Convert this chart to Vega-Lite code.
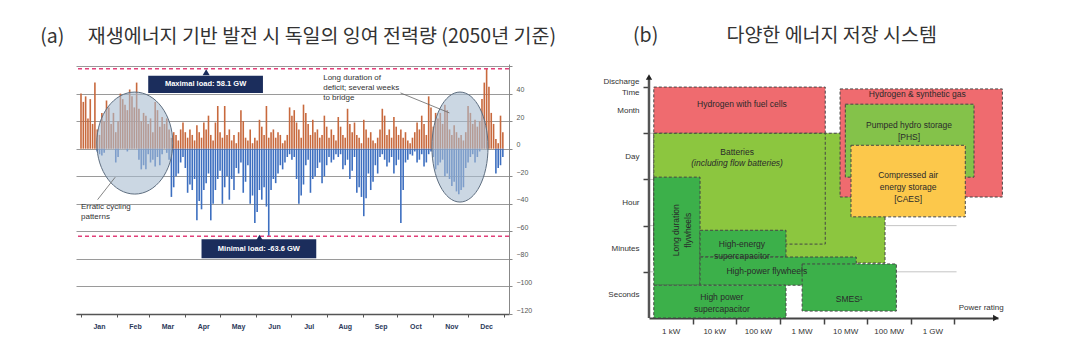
{
  "$schema": "https://vega.github.io/schema/vega-lite/v6.json",
  "background": "white",
  "padding": {"left": 40, "top": 26, "right": 5, "bottom": 5},
  "spacing": 46,
  "config": {
    "view": {"stroke": null, "fill": "white"},
    "font": "Liberation Sans",
    "title": {"font": "Noto Sans CJK KR", "fontSize": 19.5, "fontWeight": "normal", "color": "#333333", "anchor": "start"}
  },
  "datasets": {
    "surplus": [
      {"d":0,"p":40,"n":0},{"d":2,"p":34,"n":0},{"d":4,"p":38,"n":0},{"d":6,"p":22,"n":0},{"d":8,"p":36,"n":0},
      {"d":10,"p":18,"n":0},{"d":12,"p":48,"n":0},{"d":14,"p":14,"n":-2},{"d":16,"p":10,"n":-4},{"d":18,"p":26,"n":-5},
      {"d":20,"p":20,"n":-3},{"d":22,"p":35,"n":0},{"d":24,"p":30,"n":0},{"d":26,"p":18,"n":0},{"d":28,"p":26,"n":0},
      {"d":30,"p":12,"n":-10},{"d":32,"p":20,"n":-6},{"d":34,"p":40,"n":0},{"d":36,"p":36,"n":0},{"d":38,"p":32,"n":0},
      {"d":40,"p":28,"n":-2},{"d":42,"p":43,"n":0},{"d":44,"p":38,"n":0},{"d":46,"p":30,"n":0},{"d":48,"p":48,"n":0},
      {"d":50,"p":29,"n":-8},{"d":52,"p":20,"n":-15},{"d":54,"p":26,"n":-12},{"d":56,"p":24,"n":-15},{"d":58,"p":18,"n":-4},
      {"d":60,"p":22,"n":-10},{"d":62,"p":12,"n":-8},{"d":64,"p":34,"n":-13},{"d":66,"p":28,"n":-6},{"d":68,"p":16,"n":-12},
      {"d":70,"p":23,"n":-4},{"d":72,"p":18,"n":0},{"d":74,"p":22,"n":-3},{"d":76,"p":14,"n":-8},{"d":78,"p":8,"n":-35},
      {"d":80,"p":12,"n":-28},{"d":82,"p":10,"n":-20},{"d":84,"p":6,"n":-18},{"d":86,"p":14,"n":-10},{"d":88,"p":19,"n":-6},
      {"d":90,"p":12,"n":-14},{"d":92,"p":8,"n":-32},{"d":94,"p":14,"n":-26},{"d":96,"p":10,"n":-30},{"d":98,"p":6,"n":-22},
      {"d":100,"p":17,"n":-52},{"d":102,"p":12,"n":-38},{"d":104,"p":8,"n":-44},{"d":106,"p":19,"n":-30},{"d":108,"p":14,"n":-25},
      {"d":110,"p":24,"n":-18},{"d":112,"p":10,"n":-52},{"d":114,"p":6,"n":-40},{"d":116,"p":19,"n":-30},{"d":118,"p":31,"n":-22},
      {"d":120,"p":12,"n":-16},{"d":122,"p":8,"n":-40},{"d":124,"p":31,"n":-28},{"d":126,"p":10,"n":-20},{"d":128,"p":14,"n":-37},
      {"d":130,"p":6,"n":-22},{"d":132,"p":10,"n":-30},{"d":134,"p":4,"n":-14},{"d":136,"p":12,"n":-18},{"d":138,"p":28,"n":-10},
      {"d":140,"p":20,"n":-32},{"d":142,"p":8,"n":-24},{"d":144,"p":6,"n":-12},{"d":146,"p":14,"n":-40},{"d":148,"p":4,"n":-34},
      {"d":150,"p":8,"n":-54},{"d":152,"p":6,"n":-46},{"d":154,"p":21,"n":-30},{"d":156,"p":16,"n":-37},{"d":158,"p":10,"n":-28},
      {"d":160,"p":31,"n":-42},{"d":162,"p":8,"n":-63.6},{"d":164,"p":12,"n":-30},{"d":166,"p":14,"n":-22},{"d":168,"p":8,"n":-25},
      {"d":170,"p":12,"n":-18},{"d":172,"p":10,"n":-12},{"d":174,"p":4,"n":-15},{"d":176,"p":6,"n":-10},{"d":178,"p":10,"n":-6},
      {"d":180,"p":30,"n":-4},{"d":182,"p":24,"n":-8},{"d":184,"p":28,"n":-6},{"d":186,"p":19,"n":-22},{"d":188,"p":14,"n":-40},
      {"d":190,"p":8,"n":-34},{"d":192,"p":32,"n":-26},{"d":194,"p":26,"n":-12},{"d":196,"p":18,"n":-8},{"d":198,"p":10,"n":-32},
      {"d":200,"p":21,"n":-22},{"d":202,"p":12,"n":-20},{"d":204,"p":14,"n":-14},{"d":206,"p":8,"n":-10},{"d":208,"p":10,"n":-25},
      {"d":210,"p":24,"n":-20},{"d":212,"p":16,"n":-12},{"d":214,"p":8,"n":-6},{"d":216,"p":14,"n":-10},{"d":218,"p":10,"n":-8},
      {"d":220,"p":6,"n":-4},{"d":222,"p":23,"n":-6},{"d":224,"p":16,"n":-4},{"d":226,"p":10,"n":-15},{"d":228,"p":8,"n":-12},
      {"d":230,"p":29,"n":-8},{"d":232,"p":18,"n":-22},{"d":234,"p":12,"n":-16},{"d":236,"p":19,"n":-6},{"d":238,"p":10,"n":-32},
      {"d":240,"p":8,"n":-28},{"d":242,"p":4,"n":-35},{"d":244,"p":21,"n":-49},{"d":246,"p":14,"n":-36},{"d":248,"p":8,"n":-18},
      {"d":250,"p":12,"n":-30},{"d":252,"p":6,"n":-24},{"d":254,"p":4,"n":-12},{"d":256,"p":8,"n":-18},{"d":258,"p":14,"n":-6},
      {"d":260,"p":29,"n":-4},{"d":262,"p":24,"n":-8},{"d":264,"p":10,"n":-13},{"d":266,"p":14,"n":-10},{"d":268,"p":8,"n":-6},
      {"d":270,"p":23,"n":-18},{"d":272,"p":16,"n":-12},{"d":274,"p":10,"n":-8},{"d":276,"p":14,"n":-54},{"d":278,"p":8,"n":-30},
      {"d":280,"p":12,"n":-10},{"d":282,"p":6,"n":-8},{"d":284,"p":4,"n":-4},{"d":286,"p":8,"n":-5},{"d":288,"p":12,"n":-2},
      {"d":290,"p":19,"n":-10},{"d":292,"p":14,"n":-8},{"d":294,"p":24,"n":-4},{"d":296,"p":18,"n":-13},{"d":298,"p":10,"n":-10},
      {"d":300,"p":38,"n":-4},{"d":302,"p":30,"n":-2},{"d":304,"p":16,"n":-6},{"d":306,"p":26,"n":-15},{"d":308,"p":22,"n":-12},
      {"d":310,"p":26,"n":-10},{"d":312,"p":18,"n":-8},{"d":314,"p":32,"n":-20},{"d":316,"p":28,"n":-18},{"d":318,"p":14,"n":-22},
      {"d":320,"p":10,"n":-27},{"d":322,"p":17,"n":-24},{"d":324,"p":12,"n":-31},{"d":326,"p":8,"n":-33},{"d":328,"p":10,"n":-30},
      {"d":330,"p":6,"n":-28},{"d":332,"p":12,"n":-14},{"d":334,"p":31,"n":-10},{"d":336,"p":26,"n":-6},{"d":338,"p":18,"n":-4},
      {"d":340,"p":21,"n":-10},{"d":342,"p":16,"n":-6},{"d":344,"p":20,"n":-2},{"d":346,"p":36,"n":0},{"d":348,"p":48,"n":0},
      {"d":350,"p":58.1,"n":0},{"d":352,"p":45,"n":0},{"d":354,"p":26,"n":0},{"d":356,"p":18,"n":0},{"d":358,"p":7,"n":-18},
      {"d":360,"p":4,"n":-14},{"d":362,"p":24,"n":-12},{"d":364,"p":12,"n":-6}
    ],
    "loadLimits": [{"kind": "max", "v": 58.1}, {"kind": "min", "v": -63.6}],
    "loadBoxes": [
      {"x1": 58, "x2": 157, "y1": 52.9, "y2": 40.5, "tx": 107.5, "ty": 46.7, "px": 108, "py": 55.5, "t": "Maximal load: 58.1 GW"},
      {"x1": 104, "x2": 203, "y1": -65.7, "y2": -79.5, "tx": 153.5, "ty": -72.6, "px": 154, "py": -64.6, "t": "Minimal load: -63.6 GW"}
    ],
    "leaders": [
      {"x1": 14.3, "y1": -37, "x2": 29.5, "y2": -20.7},
      {"x1": 275.7, "y1": 40.5, "x2": 317.9, "y2": 26}
    ],
    "notes": [
      {"x": 0, "y": -42.5, "t": "Erratic cycling\npatterns"},
      {"x": 209, "y": 51.4, "t": "Long duration of\ndeficit; several weeks\nto bridge"}
    ],
    "erratic": [{"x": 46.4, "y": 4.1}],
    "longDeficit": [{"x": 327, "y": 1.2}],
    "storage": [
      {"name": "Batteries (power range)", "kind": "battery", "x1": 0.11, "x2": 5.41, "y1": 1.19, "y2": 4.0},
      {"name": "Hydrogen & synthetic gas", "kind": "hydrogen", "x1": 4.38, "x2": 8.1, "y1": 2.62, "y2": 4.96},
      {"name": "Hydrogen with fuel cells", "kind": "hydrogen", "x1": 0.11, "x2": 4.04, "y1": 4.0, "y2": 5.0},
      {"name": "Batteries", "kind": "battery", "x1": 0.11, "x2": 4.04, "y1": 1.6, "y2": 4.0},
      {"name": "Pumped hydro storage", "kind": "phs", "x1": 4.5, "x2": 7.45, "y1": 3.05, "y2": 4.63},
      {"name": "Compressed air energy storage", "kind": "caes", "x1": 4.63, "x2": 7.25, "y1": 2.19, "y2": 3.74},
      {"name": "Long duration flywheels", "kind": "mech", "x1": 0.11, "x2": 1.17, "y1": 0.71, "y2": 3.05},
      {"name": "High-energy supercapacitor", "kind": "mech", "x1": 1.17, "x2": 3.14, "y1": 1.32, "y2": 1.9},
      {"name": "High-power flywheels", "kind": "mech", "x1": 1.17, "x2": 4.75, "y1": 0.71, "y2": 1.32},
      {"name": "High power supercapacitor", "kind": "mech", "x1": 0.11, "x2": 3.14, "y1": 0.0, "y2": 0.71},
      {"name": "SMES", "kind": "mech", "x1": 3.51, "x2": 5.67, "y1": 0.15, "y2": 1.17}
    ],
    "storageLabels": [
      {"x": 2.13, "y": 4.63, "t": "Hydrogen with fuel cells"},
      {"x": 6.15, "y": 4.85, "t": "Hydrogen & synthetic gas"},
      {"x": 5.96, "y": 4.17, "t": "Pumped hydro storage\n[PHS]"},
      {"x": 5.94, "y": 3.1, "t": "Compressed air\nenergy storage\n[CAES]"},
      {"x": 2.02, "y": 3.59, "t": "Batteries"},
      {"x": 2.13, "y": 1.6, "t": "High-energy\nsupercapacitor"},
      {"x": 2.7, "y": 1.02, "t": "High-power flywheels"},
      {"x": 1.67, "y": 0.45, "t": "High power\nsupercapacitor"},
      {"x": 4.59, "y": 0.41, "t": "SMES¹"}
    ],
    "storageItalic": [{"x": 2.02, "y": 3.35, "t": "(including flow batteries)"}],
    "storageRotated": [{"x": 0.62, "y": 1.9, "t": "Long duration\nflywheels"}],
    "timeGrid": [{"g": 1}, {"g": 2}, {"g": 3}, {"g": 4}],
    "timeAxis": [{"x": 0, "y": 0, "y2": 5.22}],
    "arrowsUp": [{"x": 0, "y": 5.22}],
    "arrowsRight": [{"x": 7.95, "y": 0}],
    "powerLabel": [{"x": 7.1, "y": 0.22, "t": "Power rating"}]
  },
  "hconcat": [
    {
      "width": 433,
      "height": 250,
      "title": {"text": "(a)\u2003\u2009재생에너지 기반 발전 시 독일의 잉여 전력량 (2050년 기준)", "dx": -35, "offset": 10.5},
      "layer": [
        {
          "data": {"name": "surplus"},
          "mark": {"type": "bar", "width": 1.6, "color": "#c8693d"},
          "encoding": {
            "x": {"field": "d", "type": "quantitative", "title": null,
              "scale": {"domain": [0, 365], "nice": false, "zero": false},
              "axis": {
                "values": [0, 31, 59, 90, 120, 151, 181, 212, 243, 273, 304, 334, 365],
                "tickCount": 30,
                "labelExpr": "['Jan','Feb','Mar','Apr','May','Jun','Jul','Aug','Sep','Oct','Nov','Dec',''][indexof([0,31,59,90,120,151,181,212,243,273,304,334,365], datum.value)]",
                "labelOffset": 18, "labelOverlap": false, "labelBound": false, "labelFlush": false,
                "grid": false, "domainColor": "#555555", "domainWidth": 1.5, "tickColor": "#555555", "tickSize": 3,
                "labelFontSize": 7, "labelFontWeight": "bold", "labelColor": "#2c3a5a", "labelPadding": 5
              }
            },
            "y": {"field": "p", "type": "quantitative", "title": null,
              "scale": {"domain": [-120, 61.5], "nice": false},
              "axis": {
                "orient": "right",
                "values": [-120, -100, -80, -60, -40, -20, 0, 20, 40, 60],
                "tickCount": 30,
                "labelExpr": "datum.value == 60 ? '' : datum.label",
                "labelOverlap": false,
                "grid": true, "gridColor": "#9a9a9a", "gridWidth": 1,
                "domainColor": "#888888", "tickColor": "#888888", "tickSize": 3,
                "labelFontSize": 7, "labelColor": "#555555", "labelPadding": 4,
                "labelBaseline": "alphabetic", "labelOffset": -2
              }
            }
          }
        },
        {
          "data": {"name": "surplus"},
          "mark": {"type": "bar", "width": 1.6, "color": "#3d6fc0"},
          "encoding": {
            "x": {"field": "d", "type": "quantitative"},
            "y": {"field": "n", "type": "quantitative"}
          }
        },
        {
          "data": {"name": "loadLimits"},
          "mark": {"type": "rule", "color": "#e2407a", "strokeWidth": 1.5, "strokeDash": [4, 3]},
          "encoding": {"y": {"field": "v", "type": "quantitative"}}
        },
        {
          "data": {"name": "erratic"},
          "mark": {"type": "point", "filled": true, "shape": "M -0.745 0 C -0.745 -0.5523 -0.4115 -1 0 -1 C 0.4115 -1 0.745 -0.5523 0.745 0 C 0.745 0.5523 0.4115 1 0 1 C -0.4115 1 -0.745 0.5523 -0.745 0 Z", "size": 10404, "fill": "#a9bdd1", "fillOpacity": 0.6, "stroke": "#5e6e80", "strokeWidth": 1, "opacity": 1},
          "encoding": {"x": {"field": "x", "type": "quantitative"}, "y": {"field": "y", "type": "quantitative"}}
        },
        {
          "data": {"name": "longDeficit"},
          "mark": {"type": "point", "filled": true, "shape": "M -0.51 0 C -0.51 -0.5523 -0.2817 -1 0 -1 C 0.2817 -1 0.51 -0.5523 0.51 0 C 0.51 0.5523 0.2817 1 0 1 C -0.2817 1 -0.51 0.5523 -0.51 0 Z", "size": 12100, "fill": "#a9bdd1", "fillOpacity": 0.6, "stroke": "#5e6e80", "strokeWidth": 1, "opacity": 1},
          "encoding": {"x": {"field": "x", "type": "quantitative"}, "y": {"field": "y", "type": "quantitative"}}
        },
        {
          "data": {"name": "leaders"},
          "mark": {"type": "rule", "color": "#666666", "strokeWidth": 0.8},
          "encoding": {
            "x": {"field": "x1", "type": "quantitative"}, "x2": {"field": "x2"},
            "y": {"field": "y1", "type": "quantitative"}, "y2": {"field": "y2"}
          }
        },
        {
          "data": {"name": "loadBoxes"},
          "mark": {"type": "rect", "color": "#1b2d5c"},
          "encoding": {
            "x": {"field": "x1", "type": "quantitative"}, "x2": {"field": "x2"},
            "y": {"field": "y1", "type": "quantitative"}, "y2": {"field": "y2"}
          }
        },
        {
          "data": {"name": "loadBoxes"},
          "mark": {"type": "point", "shape": "triangle-up", "filled": true, "size": 50, "color": "#1b2d5c", "opacity": 1},
          "encoding": {"x": {"field": "px", "type": "quantitative"}, "y": {"field": "py", "type": "quantitative"}}
        },
        {
          "data": {"name": "loadBoxes"},
          "mark": {"type": "text", "color": "white", "fontSize": 7.5, "fontWeight": "bold", "baseline": "middle"},
          "encoding": {
            "x": {"field": "tx", "type": "quantitative"}, "y": {"field": "ty", "type": "quantitative"},
            "text": {"field": "t"}
          }
        },
        {
          "data": {"name": "notes"},
          "mark": {"type": "text", "color": "#333333", "fontSize": 8, "align": "left", "baseline": "middle", "lineBreak": "\n", "lineHeight": 10},
          "encoding": {
            "x": {"field": "x", "type": "quantitative"}, "y": {"field": "y", "type": "quantitative"},
            "text": {"field": "t"}
          }
        }
      ]
    },
    {
      "width": 349,
      "height": 254,
      "title": {"text": "(b)\u2003\u2003\u2003\u2002다양한 에너지 저장 시스템", "dx": 30, "offset": 17.5},
      "layer": [
        {
          "data": {"name": "timeGrid"},
          "mark": {"type": "rule", "color": "#c4c4c4", "strokeWidth": 1},
          "encoding": {
            "x": {"datum": 0, "type": "quantitative",
              "scale": {"domain": [0, 8], "nice": false, "zero": false},
              "axis": {
                "title": null,
                "values": [1, 2, 3, 4, 5, 6, 7],
                "tickCount": 30,
                "labelExpr": "['', '1 kW', '10 kW', '100 kW', '1 MW', '10 MW', '100 MW', '1 GW'][datum.value]",
                "labelOffset": -22, "labelOverlap": false, "labelBound": false, "labelFlush": false,
                "grid": false, "domainColor": "#444444", "domainWidth": 2, "tickColor": "#444444", "tickWidth": 1.5, "tickSize": 6,
                "labelFontSize": 8, "labelColor": "#333333", "labelPadding": 3
              }
            },
            "x2": {"datum": 7.05},
            "y": {"field": "g", "type": "quantitative",
              "scale": {"domain": [0, 5.5], "nice": false, "zero": false},
              "axis": {
                "title": ["Discharge", "Time"], "titleAngle": 0, "titleAlign": "right", "titleBaseline": "top",
                "titleX": -10, "titleY": 13, "titleFontSize": 8, "titleFontWeight": "normal", "titleColor": "#333333", "titleLineHeight": 11,
                "values": [1, 2, 3, 4, 5],
                "tickCount": 30,
                "labelExpr": "['', 'Seconds', 'Minutes', 'Hour', 'Day', 'Month'][datum.value]",
                "labelOffset": 23, "labelOverlap": false, "labelBound": false, "labelFlush": false,
                "grid": false, "domain": false, "tickColor": "#444444", "tickWidth": 1.5, "tickSize": 6,
                "labelFontSize": 8, "labelColor": "#333333", "labelPadding": 4
              }
            }
          }
        },
        {
          "data": {"name": "storage"},
          "mark": {"type": "rect", "stroke": "#454545", "strokeWidth": 1, "strokeDash": [3, 2], "opacity": 1},
          "encoding": {
            "x": {"field": "x1", "type": "quantitative"}, "x2": {"field": "x2"},
            "y": {"field": "y1", "type": "quantitative"}, "y2": {"field": "y2"},
            "fill": {"field": "kind", "type": "nominal", "legend": null,
              "scale": {"domain": ["hydrogen", "battery", "phs", "caes", "mech"], "range": ["#ef6b6f", "#8cc63f", "#84c24a", "#fcc84b", "#3cb04a"]}}
          }
        },
        {
          "data": {"name": "timeAxis"},
          "mark": {"type": "rule", "color": "#555555", "strokeWidth": 2.5},
          "encoding": {
            "x": {"field": "x", "type": "quantitative"},
            "y": {"field": "y", "type": "quantitative"}, "y2": {"field": "y2"}
          }
        },
        {
          "data": {"name": "storageLabels"},
          "mark": {"type": "text", "color": "#2a2a2a", "fontSize": 8.5, "baseline": "middle", "lineBreak": "\n", "lineHeight": 12},
          "encoding": {
            "x": {"field": "x", "type": "quantitative"}, "y": {"field": "y", "type": "quantitative"},
            "text": {"field": "t"}
          }
        },
        {
          "data": {"name": "storageItalic"},
          "mark": {"type": "text", "color": "#2a2a2a", "fontSize": 8.5, "fontStyle": "italic", "baseline": "middle"},
          "encoding": {
            "x": {"field": "x", "type": "quantitative"}, "y": {"field": "y", "type": "quantitative"},
            "text": {"field": "t"}
          }
        },
        {
          "data": {"name": "storageRotated"},
          "mark": {"type": "text", "color": "#2a2a2a", "fontSize": 8.5, "angle": 270, "baseline": "middle", "lineBreak": "\n", "lineHeight": 12},
          "encoding": {
            "x": {"field": "x", "type": "quantitative"}, "y": {"field": "y", "type": "quantitative"},
            "text": {"field": "t"}
          }
        },
        {
          "data": {"name": "arrowsUp"},
          "mark": {"type": "point", "shape": "triangle-up", "filled": true, "size": 40, "color": "#222222", "opacity": 1},
          "encoding": {"x": {"field": "x", "type": "quantitative"}, "y": {"field": "y", "type": "quantitative"}}
        },
        {
          "data": {"name": "arrowsRight"},
          "mark": {"type": "point", "shape": "triangle-right", "filled": true, "size": 40, "color": "#222222", "opacity": 1},
          "encoding": {"x": {"field": "x", "type": "quantitative"}, "y": {"field": "y", "type": "quantitative"}}
        },
        {
          "data": {"name": "powerLabel"},
          "mark": {"type": "text", "color": "#333333", "fontSize": 8, "align": "left", "baseline": "middle"},
          "encoding": {
            "x": {"field": "x", "type": "quantitative"}, "y": {"field": "y", "type": "quantitative"},
            "text": {"field": "t"}
          }
        }
      ]
    }
  ]
}
